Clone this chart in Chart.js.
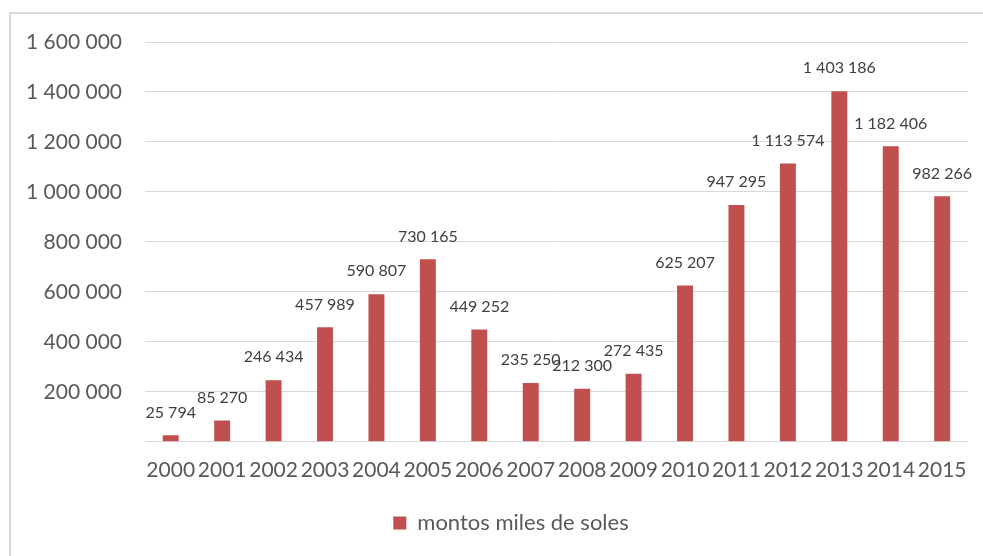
<!DOCTYPE html>
<html>
<head>
<meta charset="utf-8">
<script src="https://cdn.jsdelivr.net/npm/chart.js@4"></script>
<style>
  html, body { margin: 0; padding: 0; background: #fff; }
  #wrap { position: relative; width: 983px; height: 556px; }
</style>
</head>
<body>
<div id="wrap"><canvas id="c" width="983" height="556"></canvas></div>
<script>
const years = ['2000','2001','2002','2003','2004','2005','2006','2007','2008','2009','2010','2011','2012','2013','2014','2015'];
const montos = [25794, 85270, 246434, 457989, 590807, 730165, 449252, 235250, 212300, 272435, 625207, 947295, 1113574, 1403186, 1182406, 982266];
const seriesName = 'montos miles de soles';

const FONT = 'Lato, "Open Sans", sans-serif';

function fmt(v) {
  return String(Math.round(v)).replace(/\B(?=(\d{3})+(?!\d))/g, ' ');
}

// Light grey frame around the chart
const framePlugin = {
  id: 'frame',
  beforeDraw(chart) {
    const ctx = chart.ctx;
    ctx.save();
    ctx.fillStyle = '#ffffff';
    ctx.fillRect(0, 0, chart.width, chart.height);
    ctx.strokeStyle = '#d9d9d9';
    ctx.lineWidth = 2;
    ctx.strokeRect(10, 13, chart.width + 20, chart.height + 20);
    ctx.restore();
  }
};

// Nudge the legend a little to the right of the canvas centre
const legendShift = {
  id: 'legendShift',
  afterLayout(chart) {
    if (chart.legend) {
      chart.legend.left += 27;
      chart.legend.right += 27;
    }
  }
};

// Value labels above each bar
const valueLabels = {
  id: 'valueLabels',
  afterDatasetsDraw(chart) {
    const ctx = chart.ctx;
    const meta = chart.getDatasetMeta(0);
    ctx.save();
    ctx.font = '16px ' + FONT;
    ctx.fillStyle = '#404040';
    ctx.textAlign = 'center';
    ctx.textBaseline = 'middle';
    meta.data.forEach((bar, i) => {
      ctx.fillText(fmt(montos[i]), bar.x, bar.y - 23);
    });
    ctx.restore();
  }
};

new Chart(document.getElementById('c'), {
  type: 'bar',
  data: {
    labels: years,
    datasets: [{
      label: seriesName,
      data: montos,
      backgroundColor: '#c0504d',
      borderWidth: 0,
      categoryPercentage: 1,
      barPercentage: 0.31
    }]
  },
  options: {
    responsive: false,
    animation: false,
    layout: { padding: { top: 42, right: 15, bottom: 12, left: 0 } },
    plugins: {
      legend: {
        position: 'bottom',
        labels: {
          color: '#595959',
          font: { family: FONT, size: 22 },
          boxWidth: 13,
          boxHeight: 13,
          padding: 13
        }
      },
      tooltip: { enabled: false }
    },
    scales: {
      x: {
        grid: { display: false, drawTicks: false },
        border: { color: '#d9d9d9', width: 1 },
        ticks: { color: '#595959', font: { family: FONT, size: 21 }, padding: 16, maxRotation: 0, autoSkip: false }
      },
      y: {
        min: 0,
        max: 1600000,
        afterFit(scale) { scale.width = 145; },
        grid: { color: '#d9d9d9', lineWidth: 1, drawTicks: false },
        border: { display: false },
        ticks: {
          stepSize: 200000,
          color: '#595959',
          font: { family: FONT, size: 21 },
          padding: 23,
          callback: v => (v === 0 ? '' : fmt(v))
        }
      }
    }
  },
  plugins: [framePlugin, legendShift, valueLabels]
});
</script>
</body>
</html>
